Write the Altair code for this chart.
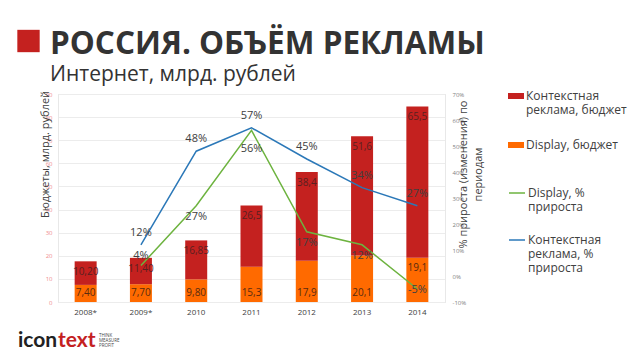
import altair as alt
import pandas as pd
import json

years = ["2008*", "2009*", "2010", "2011", "2012", "2013", "2014"]
display_budget = [7.40, 7.70, 9.80, 15.3, 17.9, 20.1, 19.1]
context_budget = [10.20, 11.40, 16.85, 26.5, 38.4, 51.6, 65.5]
display_labels = ["7,40", "7,70", "9,80", "15,3", "17,9", "20,1", "19,1"]
context_labels = ["10,20", "11,40", "16,85", "26,5", "38,4", "51,6", "65,5"]
display_growth = [None, 4, 27, 56, 17, 12, -5]
context_growth = [None, 12, 48, 57, 45, 34, 27]

S_CTX_B = "Контекстная реклама, бюджет"
S_DIS_B = "Display, бюджет"
S_DIS_G = "Display, % прироста"
S_CTX_G = "Контекстная реклама, % прироста"

RED = "#c4211f"
ORANGE = "#ff6a00"
GREEN = "#6db33f"
BLUE = "#2b78b8"
FONT = "Open Sans"

rows = []
for i, yr in enumerate(years):
    rows.append({"year": yr, "series": S_DIS_B, "y0": 0.0, "y1": display_budget[i], "label": display_labels[i]})
    rows.append({"year": yr, "series": S_CTX_B, "y0": display_budget[i],
                 "y1": display_budget[i] + context_budget[i], "label": context_labels[i]})
bar_df = pd.DataFrame(rows)

lrows = []
for i, yr in enumerate(years):
    if display_growth[i] is not None:
        lrows.append({"year": yr, "series": S_DIS_G, "value": display_growth[i], "label": f"{display_growth[i]}%"})
    if context_growth[i] is not None:
        lrows.append({"year": yr, "series": S_CTX_G, "value": context_growth[i], "label": f"{context_growth[i]}%"})
line_df = pd.DataFrame(lrows)

x_enc = alt.X("year:N", sort=years, title=None,
              scale=alt.Scale(paddingInner=0, paddingOuter=0),
              axis=alt.Axis(labelFontSize=8, labelColor="#404040", labelPadding=6, ticks=False,
                            domain=False, labelAngle=0, labelFont=FONT))

left_axis = alt.Axis(values=list(range(0, 91, 10)), title="Бюджеты, млрд. рублей",
                     labelFontSize=6, labelColor="#f08c8c", labelPadding=6, ticks=False,
                     domain=True, domainColor="#e8e8e8", gridColor="#ececec", grid=True,
                     titleX=-13, titleY=60, titleAngle=270, titleAlign="center", titleBaseline="middle",
                     titleFontSize=11, titleColor="#404040", titleFontWeight="normal", titleFont=FONT,
                     labelFont=FONT)
left_scale = alt.Scale(domain=[0, 90], nice=False)

right_axis = alt.Axis(values=list(range(-10, 71, 10)), orient="right",
                      title=["% прироста (изменения) по", "периодам"],
                      labelExpr="datum.value + '%'", labelFontSize=6, labelColor="#808080",
                      labelPadding=7, ticks=False, grid=False, domain=True, domainColor="#e8e8e8",
                      titleX=18, titleY=80, titleAngle=270, titleAlign="center", titleBaseline="middle",
                      titleFontSize=11, titleColor="#404040", titleFontWeight="normal", titleFont=FONT,
                      titleLineHeight=15, labelFont=FONT)
right_scale = alt.Scale(domain=[-10, 70], nice=False)

bar_legend_expr = ("datum.label == '" + S_CTX_B + "' ? ['Контекстная', 'реклама, бюджет'] : datum.label")
line_legend_expr = ("datum.label == '" + S_CTX_G + "' ? ['Контекстная', 'реклама, %', 'прироста'] : "
                    "['Display, %', 'прироста']")

bars = alt.Chart(bar_df).mark_bar(size=22).encode(
    x=x_enc,
    y=alt.Y("y1:Q", scale=left_scale, axis=left_axis),
    y2="y0:Q",
    fill=alt.Fill("series:N", scale=alt.Scale(domain=[S_CTX_B, S_DIS_B], range=[RED, ORANGE]),
                  legend=alt.Legend(title=None, orient="none", legendX=450, legendY=-6, padding=0,
                                    symbolType="M-1,-0.375H1V0.375H-1Z", symbolSize=256,
                                    labelExpr=bar_legend_expr, labelFont=FONT, labelFontSize=12,
                                    labelColor="#404040", labelBaseline="middle", rowPadding=21,
                                    labelLimit=200, labelOffset=2, symbolStrokeWidth=0)),
)


def sel(series, yrs):
    return f"datum.series == {json.dumps(series)} && indexof({json.dumps(yrs)}, datum.year) >= 0"


ctx_text = alt.Chart(bar_df).transform_filter(sel(S_CTX_B, years)).mark_text(
    dy=11, baseline="middle", fontSize=10, color="#5a2020", font=FONT).encode(
    x=x_enc, y=alt.Y("y1:Q", scale=left_scale, axis=left_axis), text="label:N")

dis_text_low = alt.Chart(bar_df).transform_filter(sel(S_DIS_B, years[:-1])).mark_text(
    dy=-9, baseline="middle", fontSize=10, color="#5a2a10", font=FONT).encode(
    x=x_enc, y=alt.Y("y0:Q", scale=left_scale, axis=left_axis), text="label:N")

dis_text_top = alt.Chart(bar_df).transform_filter(sel(S_DIS_B, years[-1:])).mark_text(
    dy=10, baseline="middle", fontSize=10, color="#5a2a10", font=FONT).encode(
    x=x_enc, y=alt.Y("y1:Q", scale=left_scale, axis=left_axis), text="label:N")

y_right = alt.Y("value:Q", scale=right_scale, axis=right_axis)

lines = alt.Chart(line_df).mark_line(strokeWidth=1.5).encode(
    x=x_enc, y=y_right,
    stroke=alt.Stroke("series:N", scale=alt.Scale(domain=[S_DIS_G, S_CTX_G], range=[GREEN, BLUE]),
                      legend=alt.Legend(title=None, orient="none", legendX=450, legendY=90, padding=0,
                                        symbolType="stroke", symbolSize=256, symbolStrokeWidth=1.5,
                                        labelExpr=line_legend_expr, labelFont=FONT, labelFontSize=12,
                                        labelColor="#404040", labelBaseline="middle", rowPadding=18,
                                        labelLimit=200, labelOffset=2)),
)


def pct_text(series, yrs, dy):
    return alt.Chart(line_df).transform_filter(sel(series, yrs)).mark_text(
        dy=dy, baseline="middle", fontSize=11, color="#404040", font=FONT).encode(
        x=x_enc, y=y_right, text="label:N")


blue_lbl = pct_text(S_CTX_G, years, -12)
green_above = pct_text(S_DIS_G, ["2009*"], -10)
green_below = pct_text(S_DIS_G, ["2010", "2012", "2013"], 11)
green_56 = pct_text(S_DIS_G, ["2011"], 19)
green_end = pct_text(S_DIS_G, ["2014"], 1)

one = pd.DataFrame({"k": [0]})
square = alt.Chart(one).mark_square(size=500, color=RED, opacity=1).encode(
    x=alt.value(-29.5), y=alt.value(-53))
logo_a = alt.Chart(one).mark_text(text="icon", align="left", baseline="alphabetic", fontSize=21,
                                  fontWeight="bold", font="Lato", color="#222222").encode(
    x=alt.value(-40), y=alt.value(253))
logo_b = alt.Chart(one).mark_text(text="text", align="left", baseline="alphabetic", fontSize=21,
                                  fontWeight="bold", font="Lato", color=RED).encode(
    x=alt.value(0), y=alt.value(253))
logo_c = alt.Chart(one).mark_text(text=["THINK", "MEASURE", "PROFIT"], align="left", baseline="top",
                                  fontSize=4.5, lineHeight=5, font=FONT, color="#444444").encode(
    x=alt.value(41), y=alt.value(239))

left_layers = alt.layer(bars, ctx_text, dis_text_low, dis_text_top)
right_layers = alt.layer(lines, blue_lbl, green_above, green_below, green_56, green_end)

chart = alt.layer(left_layers, right_layers, square, logo_a, logo_b, logo_c).resolve_scale(
    y="independent"
).properties(
    width=387, height=208,
    autosize=alt.AutoSizeParams(type="none"),
    padding={"left": 50, "top": 86, "right": 185, "bottom": 49},
    title=alt.TitleParams(text="РОССИЯ. ОБЪЁМ РЕКЛАМЫ", subtitle="Интернет, млрд. рублей",
                          anchor="start", frame="group", dx=-8, offset=0, dy=55, fontSize=31.5,
                          font=FONT, fontWeight="bold", color="#333333", subtitleFont=FONT,
                          subtitleFontSize=21, subtitleColor="#333333", subtitlePadding=3),
).configure_view(stroke=None).configure(background="white")

chart.save("out.html", embed_options={"renderer": "svg", "actions": False})
